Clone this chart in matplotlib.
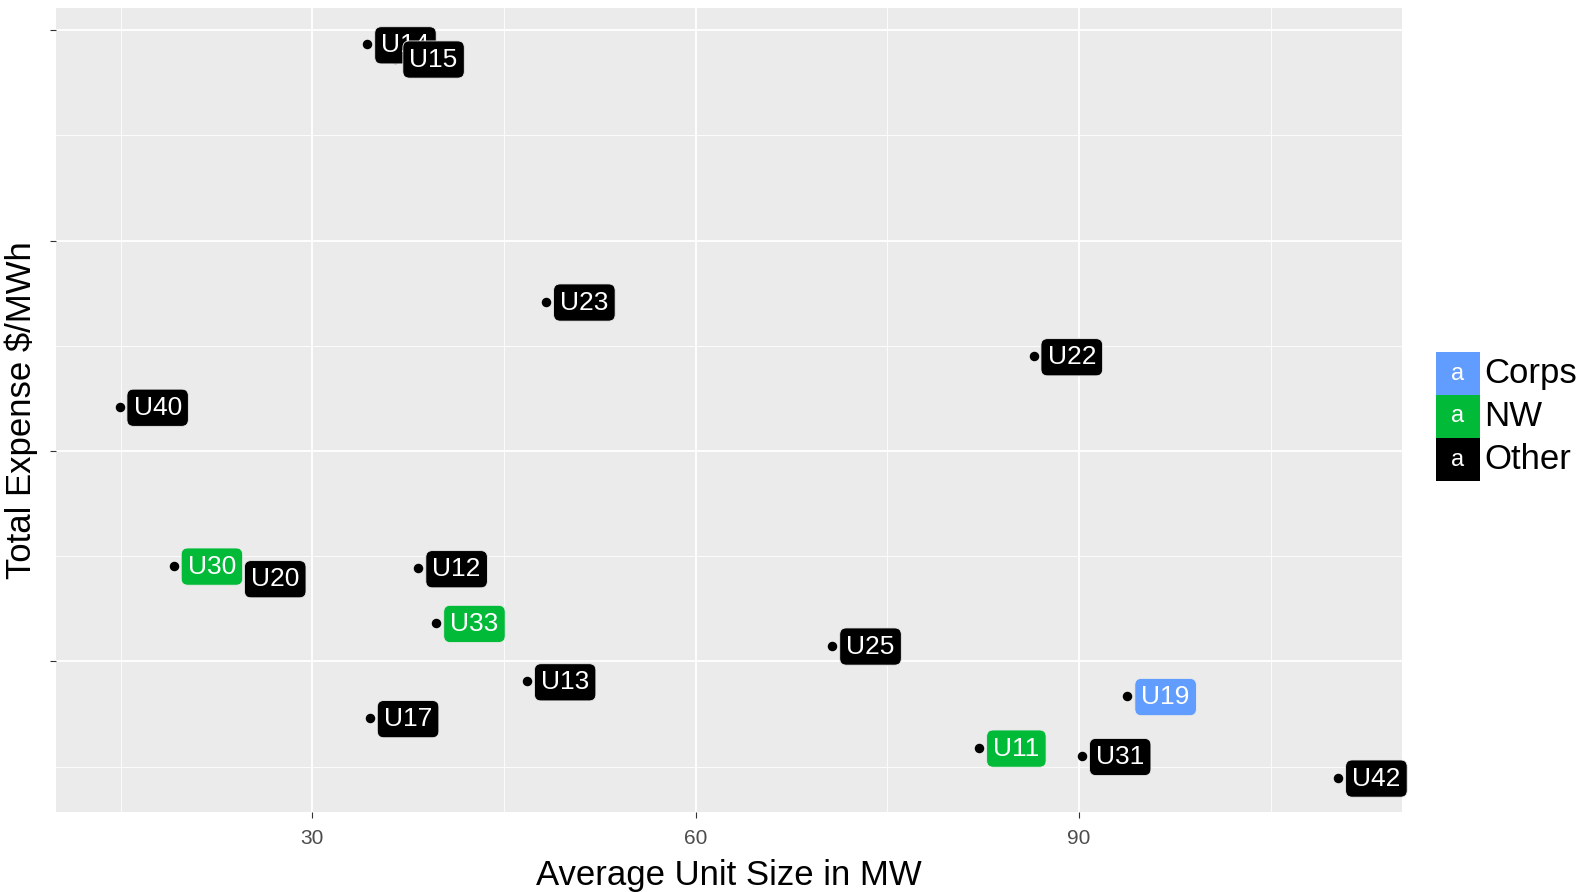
import matplotlib

matplotlib.use("Agg")

import matplotlib.pyplot as plt
from matplotlib.patches import Rectangle

plt.rcParams["font.family"] = ["Liberation Sans", "DejaVu Sans"]

# data (y axis has no labels, arbitrary units)
units = ["U14", "U15", "U23", "U22", "U40", "U30", "U20", "U12", "U33",
         "U25", "U13", "U19", "U17", "U11", "U31", "U42"]
unit_size_mw = [34.3, 36.5, 48.3, 86.45, 14.9, 19.15, 24.1, 38.3, 39.7,
                70.7, 46.8, 93.8, 34.5, 82.2, 90.25, 110.3]
total_expense = [78.65, 77.3, 54.2, 49.0, 44.2, 29.1, 27.9, 28.85, 23.65,
                 21.5, 18.1, 16.7, 14.6, 11.8, 11.0, 8.95]
owner = ["Other", "Other", "Other", "Other", "Other", "NW", "Other", "Other", "NW",
         "Other", "Other", "Corps", "Other", "NW", "Other", "Other"]

groups = ["Corps", "NW", "Other"]
group_colors = {"Corps": "#619CFF", "NW": "#00BA38", "Other": "#000000"}

x_ticks = [30, 60, 90]
y_ticks = [20, 40, 60, 80]

fig = plt.figure(figsize=(15.85, 8.92), dpi=100)
ax = fig.add_axes([0.0351, 0.0896, 0.8495, 0.9014])
ax.set_facecolor("#EBEBEB")

ax.set_xlim(9.9, 115.3)
ax.set_ylim(5.67, 82.1)
ax.set_xticks(x_ticks)
ax.set_xticks([15, 45, 75, 105], minor=True)
ax.set_yticks(y_ticks)
ax.set_yticks([10, 30, 50, 70], minor=True)
ax.set_yticklabels([])
ax.grid(True, which="major", color="white", linewidth=1.3)
ax.grid(True, which="minor", color="white", linewidth=0.6)
ax.set_axisbelow(True)
for s in ax.spines.values():
    s.set_visible(False)
ax.tick_params(axis="both", which="major", length=4, color="#333333",
               labelsize=15, labelcolor="#4D4D4D", pad=8)
ax.tick_params(axis="both", which="minor", length=0)

ax.set_xlabel("Average Unit Size in MW", fontsize=25, labelpad=8)
ax.set_ylabel("Total Expense $/MWh", fontsize=25)
ax.yaxis.set_label_coords(-0.013, 0.5)

ax.scatter(unit_size_mw, total_expense, s=34, color="black", zorder=3)

for i, (name, x, y, grp) in enumerate(zip(units, unit_size_mw, total_expense, owner)):
    ax.annotate(
        name, (x, y), xytext=(14, -1), textcoords="offset pixels",
        ha="left", va="center", fontsize=19, color="white", zorder=4 + i,
        bbox=dict(boxstyle="round,pad=0.25,rounding_size=0.25",
                  fc=group_colors[grp], ec="#EBEBEB", lw=0.6),
    )

# legend
W, H = 1585, 892
key_w, key_h = 44, 43
key_x = 1436
key_top = 352
for k, grp in enumerate(groups):
    y0 = key_top + k * key_h
    fig.patches.append(Rectangle((key_x / W, 1 - (y0 + key_h) / H), key_w / W, key_h / H,
                                 transform=fig.transFigure, fc=group_colors[grp], ec="none"))
    fig.text((key_x + key_w / 2) / W, 1 - (y0 + key_h / 2) / H, "a", color="white",
             fontsize=17, ha="center", va="center")
    fig.text((key_x + key_w + 4) / W, 1 - (y0 + key_h / 2) / H, grp, color="black",
             fontsize=25, ha="left", va="center")

fig.savefig("out.png", dpi=100)
